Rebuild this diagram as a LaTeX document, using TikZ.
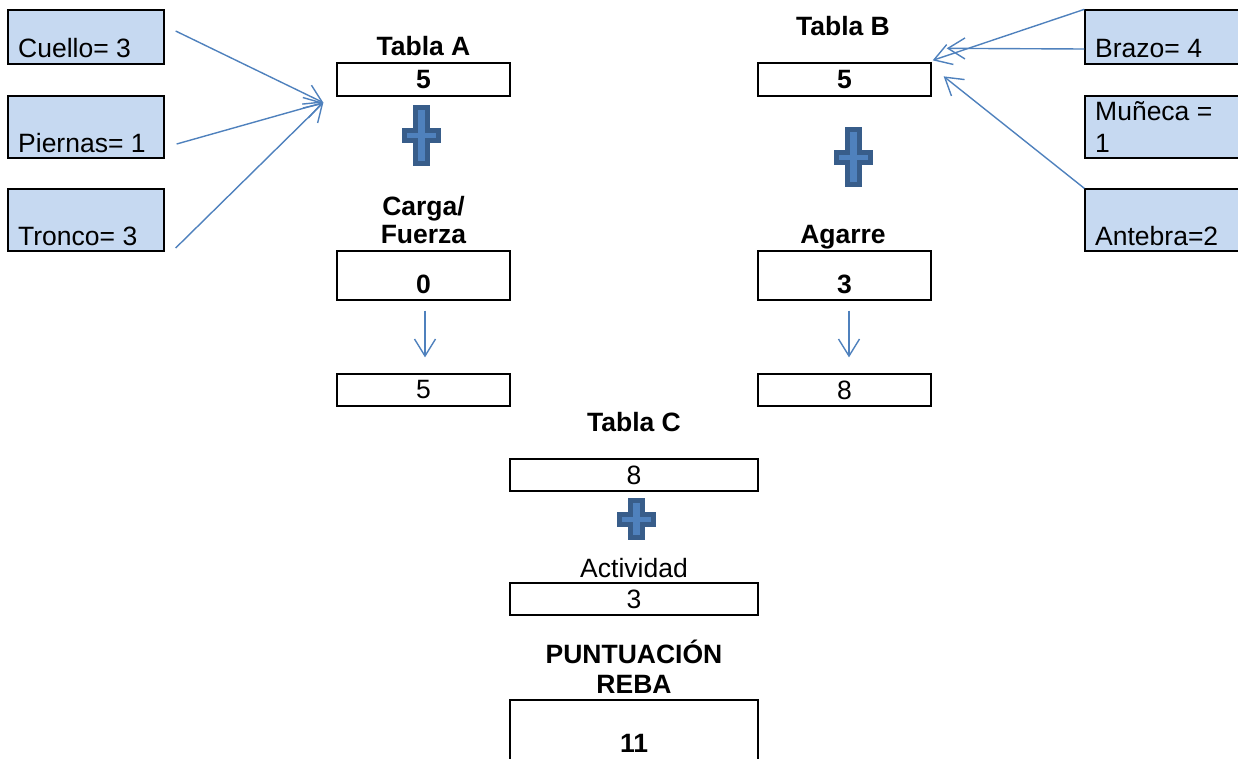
\documentclass[tikz,border=0pt]{standalone}
\usepackage{fontspec}
\setmainfont{Liberation Sans}
\usepackage{tikz}
\usetikzlibrary{arrows.meta}

\definecolor{partblue}{HTML}{C6D9F1}
\definecolor{linkblue}{HTML}{4F81BD}
\definecolor{plusedge}{HTML}{385D8A}

\tikzset{
  txt/.style={inner sep=0pt, font=\fontsize{26.5pt}{28pt}\selectfont},
  boldtxt/.style={inner sep=0pt, font=\fontsize{26.5pt}{28pt}\selectfont\bfseries},
  scorebox/.style={draw, line width=1.3pt, minimum width=173pt, minimum height=33pt, inner sep=0pt, font=\fontsize{26.5pt}{28pt}\selectfont},
  widebox/.style={scorebox, minimum width=248pt},
  partbox/.style={draw, line width=1.3pt, fill=partblue, minimum width=156pt, minimum height=62pt, inner sep=0pt},
  link/.style={draw=linkblue, line width=1.4pt, -{Straight Barb[length=17pt,width=21pt,line width=1.4pt]}},
  plusfill/.style={fill=linkblue, draw=plusedge, line width=5pt, line join=miter},
}

% cross: centre x, centre y, half height (inset)
\newcommand{\plusat}[3]{%
  \draw[plusfill] (#1-6,#2-#3) -- ++(12,0) -- ++(0,#3-5) -- ++(11,0) -- ++(0,10) -- ++(-11,0)
    -- ++(0,#3-5) -- ++(-12,0) -- ++(0,-#3+5) -- ++(-11,0) -- ++(0,-10) -- ++(11,0) -- cycle;}

\begin{document}
\begin{tikzpicture}[x=1pt,y=-1pt]
\clip (0,0) rectangle (1238,758);

% body parts, left
\node[partbox, minimum height=54pt] (cuello) at (86,37) {};
\node[partbox] (piernas) at (86,127) {};
\node[partbox] (tronco) at (86,220) {};
\node[txt, anchor=base west] at (18,57) {Cuello= 3};
\node[txt, anchor=base west] at (18,152) {Piernas= 1};
\node[txt, anchor=base west] at (18,245) {Tronco= 3};

% body parts, right
\node[partbox, minimum width=160pt, minimum height=54pt] (brazo) at (1165,37) {};
\node[partbox, minimum width=160pt] (muneca) at (1165,127) {};
\node[partbox, minimum width=160pt] (antebra) at (1165,220) {};
\node[txt, anchor=base west] at (1095,57) {Brazo= 4};
\node[txt, anchor=base west, align=left, font=\fontsize{26.5pt}{32pt}\selectfont] at (1095,152) {Muñeca =\\1};
\node[txt, anchor=base west] at (1095,245) {Antebra=2};

% Tabla A column
\node[boldtxt, anchor=base] at (423.5,55) {Tabla A};
\node[scorebox, font=\fontsize{26.5pt}{28pt}\selectfont\bfseries] (tablaA) at (423.5,79.5) {5};
\plusat{421.5}{135.5}{28}
\node[boldtxt, anchor=base, align=center] at (423.5,243) {Carga/\\Fuerza};
\node[scorebox, minimum height=0pt, text height=42pt, text depth=7pt, font=\fontsize{26.5pt}{28pt}\selectfont\bfseries] (carga) at (423.5,275.5) {0};
\node[scorebox, minimum height=32pt] (sumaA) at (423.5,390) {5};

% Tabla B column
\node[boldtxt, anchor=base] at (843,35) {Tabla B};
\node[scorebox, font=\fontsize{26.5pt}{28pt}\selectfont\bfseries] (tablaB) at (844.5,79.5) {5};
\plusat{853.5}{157}{27.5}
\node[boldtxt, anchor=base] at (843,243) {Agarre};
\node[scorebox, minimum height=0pt, text height=42pt, text depth=7pt, font=\fontsize{26.5pt}{28pt}\selectfont\bfseries] (agarre) at (844.5,275.5) {3};
\node[scorebox, minimum height=32pt] (sumaB) at (844.5,390) {8};

% Tabla C and final score
\node[boldtxt, anchor=base] at (634,431) {Tabla C};
\node[widebox, minimum height=32pt] (tablaC) at (634,475) {8};
\plusat{636.5}{519}{18.5}
\node[txt, anchor=base] at (634,577) {Actividad};
\node[widebox, minimum height=32pt] (actividad) at (634,599) {3};
\node[boldtxt, anchor=base, align=center, font=\fontsize{26.5pt}{30pt}\selectfont\bfseries] at (634,693) {PUNTUACIÓN\\REBA};
\node[widebox, minimum height=0pt, text height=52pt, text depth=23pt, font=\fontsize{26.5pt}{28pt}\selectfont\bfseries] (reba) at (634,737.5) {11};

% arrows
\coordinate (tipA) at ([shift={(-13,6)}]tablaA.south west);
\draw[link] ([shift={(11,-6)}]cuello.east) -- (tipA);
\draw[link] ([shift={(12,17)}]piernas.east) -- (tipA);
\draw[link] ([shift={(11,28)}]tronco.east) -- (tipA);
\draw[link] (brazo.north west) -- ([shift={(1,-2)}]tablaB.north east);
\draw[link] ([shift={(0,12)}]brazo.west) -- ([shift={(15,-14)}]tablaB.north east);
\draw[link] (antebra.north west) -- ([shift={(12,14)}]tablaB.north east);
\draw[link, shorten <=10pt, shorten >=16pt] ([xshift=1.5pt]carga.south) -- ([xshift=1.5pt]sumaA.north);
\draw[link, shorten <=10pt, shorten >=16pt] ([xshift=4.5pt]agarre.south) -- ([xshift=4.5pt]sumaB.north);
\end{tikzpicture}
\end{document}
